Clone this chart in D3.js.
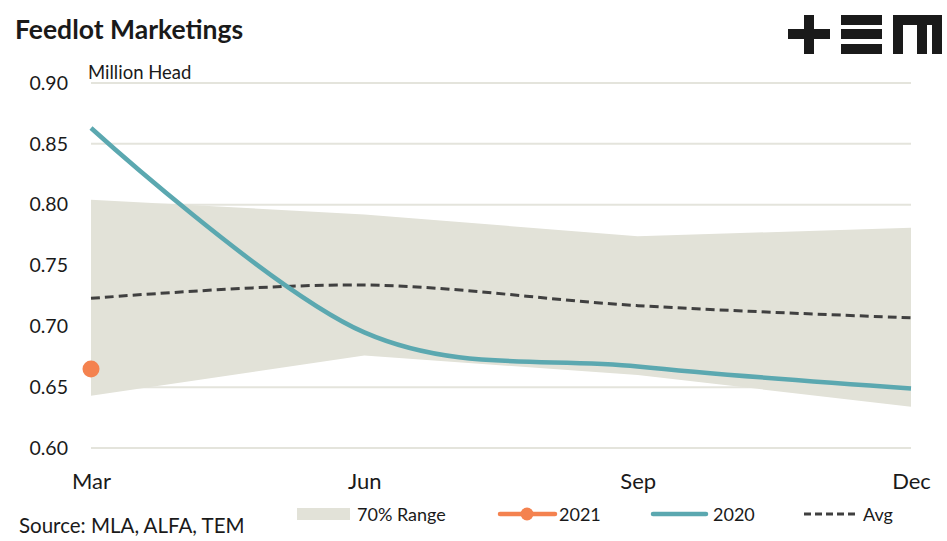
<!DOCTYPE html>
<html>
<head>
<meta charset="utf-8">
<script src="https://cdn.jsdelivr.net/npm/d3@7"></script>
<style>
  body { margin: 0; background: #fff; }
  text { font-family: Lato, "Open Sans", sans-serif; fill: #1a1a1a; }
</style>
</head>
<body>
<svg id="chart" width="947" height="541"></svg>
<script>
// data
var months = ["Mar", "Jun", "Sep", "Dec"];
var rangeLow = [0.643, 0.676, 0.660, 0.634];
var rangeHigh = [0.804, 0.792, 0.774, 0.781];
var avg = [0.723, 0.734, 0.717, 0.707];
var y2020 = [0.863, 0.695, 0.667, 0.649];
var y2021 = [0.665];
var yTicks = [0.60, 0.65, 0.70, 0.75, 0.80, 0.85, 0.90];

var svg = d3.select("#chart");

var x = d3.scalePoint().domain(months).range([91, 911]);
var y = d3.scaleLinear().domain([0.60, 0.90]).range([448, 83]);

// grid
svg.append("g").selectAll("line")
  .data(yTicks)
  .join("line")
  .attr("x1", 91).attr("x2", 911)
  .attr("y1", d => y(d)).attr("y2", d => y(d))
  .attr("stroke", "#e4e4dc")
  .attr("stroke-width", 2);

// y axis labels
var yAxis = svg.append("g")
  .attr("transform", "translate(71,0)")
  .call(d3.axisLeft(y).tickValues(yTicks).tickFormat(d3.format(".2f")).tickSize(0));
yAxis.select(".domain").remove();
yAxis.selectAll("text")
  .attr("font-size", 19.5)
  .attr("font-family", "Lato, 'Open Sans', sans-serif")
  .attr("fill", "#1a1a1a");

// x axis labels
var xAxis = svg.append("g")
  .attr("transform", "translate(0,477)")
  .call(d3.axisBottom(x).tickSize(0));
xAxis.select(".domain").remove();
xAxis.selectAll("text")
  .attr("font-size", 22)
  .attr("font-family", "Lato, 'Open Sans', sans-serif")
  .attr("fill", "#1a1a1a")
  .attr("dy", "0.4em");

// 70% range band
var area = d3.area()
  .x((d, i) => x(months[i]))
  .y0((d, i) => y(rangeLow[i]))
  .y1(d => y(d));
svg.append("path")
  .datum(rangeHigh)
  .attr("d", area)
  .attr("fill", "#e2e2d8");

// avg
var line = d3.line()
  .x((d, i) => x(months[i]))
  .y(d => y(d))
  .curve(d3.curveCardinal.tension(0));

svg.append("path")
  .datum(avg)
  .attr("d", line)
  .attr("fill", "none")
  .attr("stroke", "#404040")
  .attr("stroke-width", 3)
  .attr("stroke-dasharray", "9,5");

// 2020
svg.append("path")
  .datum(y2020)
  .attr("d", line)
  .attr("fill", "none")
  .attr("stroke", "#5ba8b0")
  .attr("stroke-width", 4.5);

// 2021
svg.append("g").selectAll("circle")
  .data(y2021)
  .join("circle")
  .attr("cx", (d, i) => x(months[i]))
  .attr("cy", d => y(d))
  .attr("r", 8.5)
  .attr("fill", "#f4824f");

// title, units, source
svg.append("text").attr("x", 15).attr("y", 39)
  .attr("font-size", 26.5).attr("font-weight", "bold")
  .text("Feedlot Marketings");
svg.append("text").attr("x", 88).attr("y", 79)
  .attr("font-size", 18.5)
  .text("Million Head");
svg.append("text").attr("x", 19).attr("y", 533)
  .attr("font-size", 20.5)
  .text("Source: MLA, ALFA, TEM");

// logo
var logo = svg.append("g").attr("fill", "#1a1a1a");
logo.append("rect").attr("x", 788).attr("y", 29).attr("width", 42).attr("height", 10);
logo.append("rect").attr("x", 804).attr("y", 15).attr("width", 10).attr("height", 39);
[15, 29, 44].forEach(function(t) {
  logo.append("rect").attr("x", 841).attr("y", t).attr("width", 41).attr("height", 10);
});
logo.append("rect").attr("x", 893).attr("y", 15).attr("width", 49).attr("height", 10);
[893, 917, 932].forEach(function(l) {
  logo.append("rect").attr("x", l).attr("y", 15).attr("width", 10).attr("height", 39);
});

// legend
var lg = svg.append("g").attr("transform", "translate(0,514)");
lg.append("rect").attr("x", 297).attr("y", -6).attr("width", 53).attr("height", 12).attr("fill", "#e2e2d8");
lg.append("text").attr("x", 357).attr("y", 6.5).attr("font-size", 18).text("70% Range");

lg.append("line").attr("x1", 500).attr("x2", 555).attr("y1", 0).attr("y2", 0)
  .attr("stroke", "#f4824f").attr("stroke-width", 4.5).attr("stroke-linecap", "round");
lg.append("circle").attr("cx", 527).attr("cy", 0).attr("r", 6.5).attr("fill", "#f4824f");
lg.append("text").attr("x", 559).attr("y", 6.5).attr("font-size", 18).text("2021");

lg.append("line").attr("x1", 653).attr("x2", 706).attr("y1", 0).attr("y2", 0)
  .attr("stroke", "#5ba8b0").attr("stroke-width", 4.5).attr("stroke-linecap", "round");
lg.append("text").attr("x", 713).attr("y", 6.5).attr("font-size", 18).text("2020");

lg.append("line").attr("x1", 804).attr("x2", 858).attr("y1", 0).attr("y2", 0)
  .attr("stroke", "#404040").attr("stroke-width", 3).attr("stroke-dasharray", "7,4");
lg.append("text").attr("x", 863).attr("y", 6.5).attr("font-size", 18).text("Avg");
</script>
</body>
</html>
